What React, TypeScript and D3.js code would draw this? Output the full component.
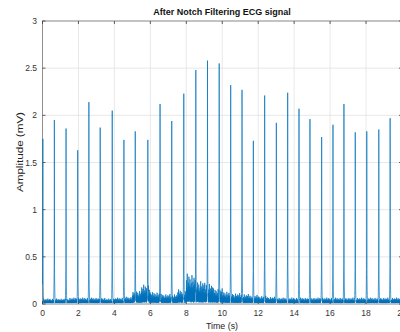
import React from "react";
import * as d3 from "d3";

// R-peak times (s) and their amplitudes (mV)
const beatTimes = [
  0.02, 0.66, 1.31, 1.96, 2.58, 3.21, 3.88, 4.53, 5.16, 5.86, 6.54, 7.19, 7.86,
  8.53, 9.18, 9.83, 10.47, 11.1, 11.73, 12.36, 13.01, 13.64, 14.27, 14.88,
  15.53, 16.16, 16.77, 17.4, 18.04, 18.71, 19.34,
];
const beatPeaks = [
  1.75, 1.95, 1.86, 1.63, 2.14, 1.87, 2.05, 1.74, 1.83, 1.74, 2.12, 1.94, 2.23,
  2.48, 2.58, 2.55, 2.32, 2.27, 1.73, 2.21, 1.92, 2.24, 2.07, 1.96, 1.77, 1.9,
  2.12, 1.82, 1.83, 1.85, 1.97,
];

// QRS shape, one value per sample around the R peak, as a fraction of the peak
const qrsShape = [
  0.02, 0.03, 0.05, 0.08, 0.12, 0.17, 0.2, 0.45, 1.0, 0.6, 0.2, 0.14, 0.1,
  0.07, 0.05, 0.03, 0.02,
];
const qrsCenter = 8;

// Residual noise level (mV) for each half second of the record
const noiseLevel = [
  0.05, 0.05, 0.05, 0.06, 0.06, 0.06, 0.06, 0.05, 0.06, 0.07, 0.14, 0.2, 0.12,
  0.1, 0.1, 0.15, 0.32, 0.25, 0.22, 0.16, 0.13, 0.11, 0.1, 0.09, 0.08, 0.07,
  0.06, 0.06, 0.06, 0.06, 0.06, 0.06, 0.06, 0.06, 0.06, 0.06, 0.06, 0.06, 0.06,
  0.06,
];

// Fine texture of the residual noise, relative to the local level
const noiseTexture = [
  0.12, 0.31, 0.05, 0.22, 0.48, 0.09, 0.17, 0.66, 0.14, 0.03, 0.27, 0.41, 0.08,
  0.19, 0.93, 0.21, 0.06, 0.35, 0.13, 0.52, 0.1, 0.24, 0.04, 0.39, 0.16, 0.71,
  0.11, 0.28, 0.07, 0.45, 0.18, 0.02, 0.33, 0.58, 0.15, 0.26, 0.09, 0.84, 0.2,
  0.05, 0.37, 0.12, 0.29, 0.62, 0.08, 0.23, 0.43, 0.14, 0.03, 0.32, 0.76, 0.17,
  0.1, 0.25, 0.5, 0.06, 0.21, 0.36, 0.13, 0.98, 0.19, 0.07, 0.3, 0.44, 0.11,
  0.22, 0.04, 0.55, 0.15, 0.34, 0.09, 0.68, 0.18, 0.27, 0.05, 0.4, 0.12, 0.88,
  0.24, 0.08, 0.31, 0.16, 0.47, 0.1, 0.2, 0.6, 0.06, 0.35, 0.14, 0.26, 0.79,
  0.11, 0.03, 0.38, 0.23, 0.53, 0.17,
];

const xTicks = [0, 2, 4, 6, 8, 10, 12, 14, 16, 18, 20];
const yTicks = [0, 0.5, 1, 1.5, 2, 2.5, 3];

const fs = 200; // samples per second
const duration = 20;

function buildSignal(): [number, number][] {
  const n = duration * fs + 1;
  const v = new Array(n);
  for (let i = 0; i < n; i++) {
    const seg = Math.min(noiseLevel.length - 1, Math.floor(i / (fs / 2)));
    v[i] = 0.008 + noiseLevel[seg] * noiseTexture[i % noiseTexture.length];
  }
  beatTimes.forEach((t, k) => {
    const c = Math.round(t * fs);
    qrsShape.forEach((f, j) => {
      const idx = c + j - qrsCenter;
      if (idx >= 0 && idx < n) v[idx] = Math.max(v[idx], f * beatPeaks[k]);
    });
  });
  return v.map((val: number, i: number) => [i / fs, val]);
}

const W = 400;
const H = 332;
const left = 42.5;
const right = 402;
const top = 21;
const bottom = 304;

export default function App() {
  const x = d3.scaleLinear().domain([0, 20]).range([left, right]);
  const y = d3.scaleLinear().domain([0, 3]).range([bottom, top]);
  const data = buildSignal();
  const line = d3
    .line<[number, number]>()
    .x((d) => x(d[0]))
    .y((d) => y(d[1]));

  const font = "'Liberation Sans', Arial, Helvetica, sans-serif";
  const tickColor = "#3a3a3a";

  return (
    <svg
      width={W}
      height={H}
      style={{ position: "absolute", left: 0, top: 0, background: "#fff" }}
      fontFamily={font}
    >
      <defs>
        <clipPath id="plot-area">
          <rect x={left - 1} y={top} width={right - left + 1} height={bottom - top + 0.5} />
        </clipPath>
      </defs>
      <rect x={left} y={top} width={right - left} height={bottom - top} fill="#fff" />
      {/* grid */}
      {xTicks.map((t) => (
        <line key={"gx" + t} x1={x(t)} x2={x(t)} y1={top} y2={bottom} stroke="#e2e2e2" strokeWidth={0.8} />
      ))}
      {yTicks.map((t) => (
        <line key={"gy" + t} x1={left} x2={right} y1={y(t)} y2={y(t)} stroke="#e2e2e2" strokeWidth={0.8} />
      ))}
      {/* axes box and ticks */}
      <rect x={left} y={top} width={right - left} height={bottom - top} fill="none" stroke="#7a7a7a" strokeWidth={0.8} />
      {xTicks.map((t) => (
        <g key={"tx" + t}>
          <line x1={x(t)} x2={x(t)} y1={bottom} y2={bottom - 3} stroke={tickColor} strokeWidth={0.8} />
          <line x1={x(t)} x2={x(t)} y1={top} y2={top + 3} stroke={tickColor} strokeWidth={0.8} />
          <text x={x(t)} y={316} textAnchor="middle" fontSize={8.5} fill="#333">
            {t}
          </text>
        </g>
      ))}
      {yTicks.map((t) => (
        <g key={"ty" + t}>
          <line x1={left} x2={left + 3} y1={y(t)} y2={y(t)} stroke={tickColor} strokeWidth={0.8} />
          <line x1={right} x2={right - 3} y1={y(t)} y2={y(t)} stroke={tickColor} strokeWidth={0.8} />
          <text x={37} y={y(t) + 3} textAnchor="end" fontSize={8.5} fill="#333">
            {t}
          </text>
        </g>
      ))}
      {/* signal */}
      <path
        d={line(data) || ""}
        fill="none"
        stroke="#0072BD"
        strokeWidth={0.7}
        strokeLinejoin="round"
        clipPath="url(#plot-area)"
      />
      <text x={222} y={15} textAnchor="middle" fontSize={9} fontWeight="bold" fill="#111">
        After Notch Filtering ECG signal
      </text>
      <text x={222} y={329} textAnchor="middle" fontSize={8.8} fill="#222">
        Time (s)
      </text>
      <text
        transform="translate(22.5,152) rotate(-90)"
        textAnchor="middle"
        fontSize={9.5}
        fill="#222"
        textLength={80}
        lengthAdjust="spacingAndGlyphs"
      >
        Amplitude (mV)
      </text>
    </svg>
  );
}
